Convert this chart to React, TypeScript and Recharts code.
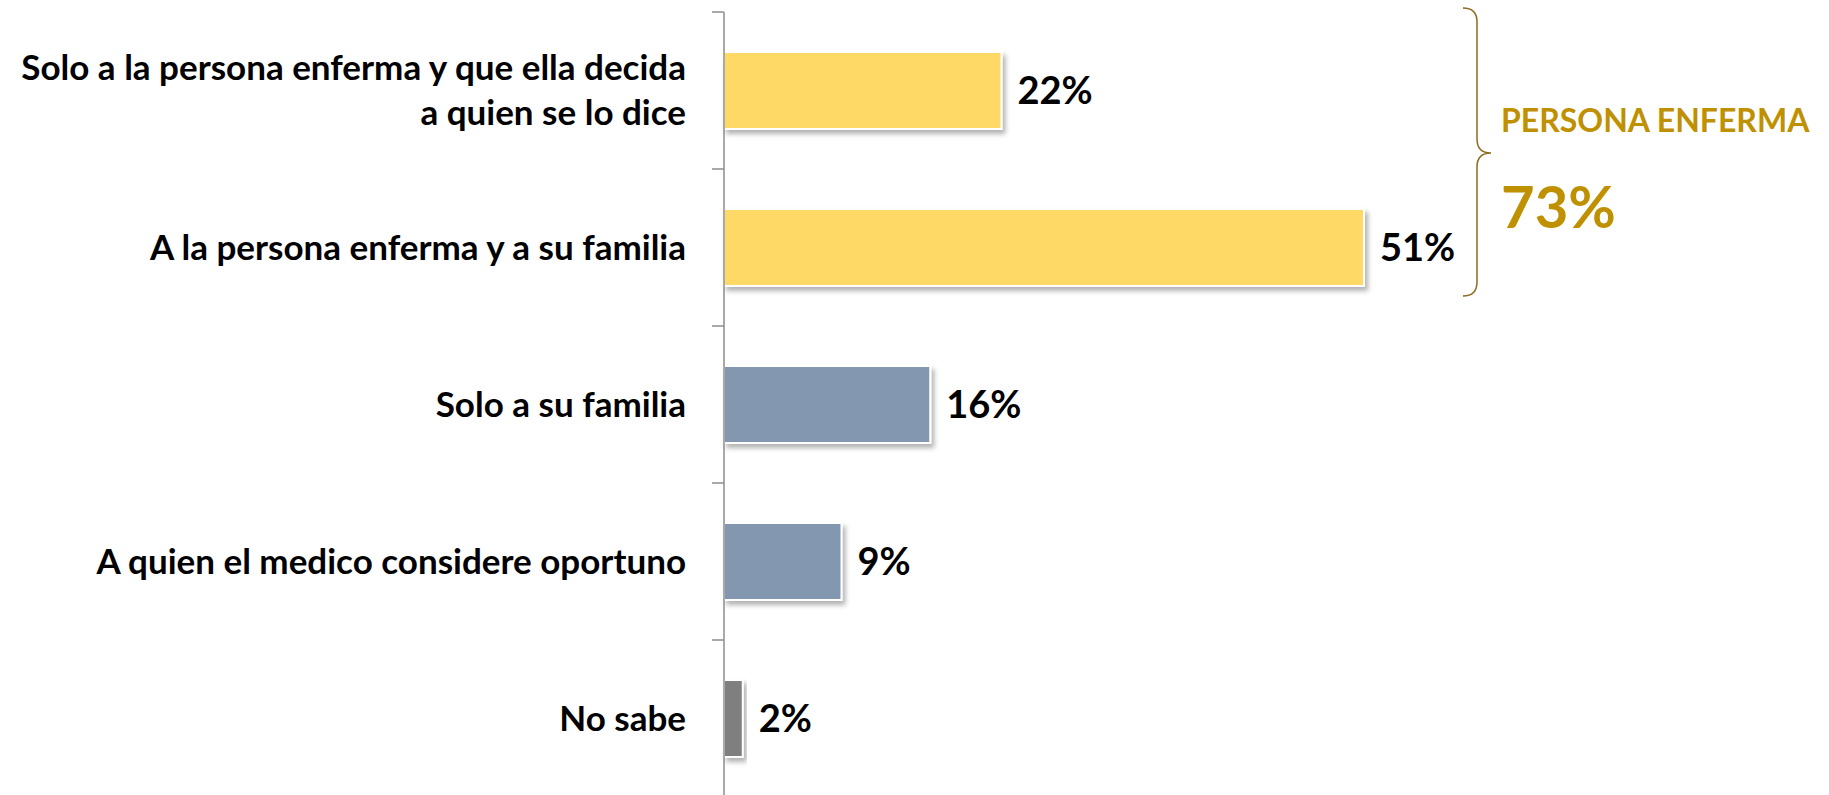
import { BarChart, Bar, XAxis, YAxis, Cell, LabelList } from "recharts";

const categories = [
  "Solo a la persona enferma y que ella decida\na quien se lo dice",
  "A la persona enferma y a su familia",
  "Solo a su familia",
  "A quien el medico considere oportuno",
  "No sabe",
];
const values = [22.2, 51.2, 16.5, 9.4, 1.5];
const valueLabels = ["22%", "51%", "16%", "9%", "2%"];
const barColors = ["#FFD966", "#FFD966", "#8497B0", "#8497B0", "#7F7F7F"];

const groupTitle = "PERSONA ENFERMA";
const groupTotal = "73%";

const data = categories.map((name, i) => ({ name, value: values[i], label: valueLabels[i] }));

const W = 1829;
const H = 800;
const TOP = 12;
const BOTTOM = 3;
const BAND = (H - TOP - BOTTOM) / categories.length;
const FONT = "Lato, 'Open Sans', sans-serif";

// category label, plus the small tick at the top of each band
function CategoryTick(props: any) {
  const { x, y, payload } = props;
  const lines = String(payload.value).split("\n");
  const lh = 45;
  const start = y - ((lines.length - 1) * lh) / 2;
  return (
    <g>
      <line x1={x - 12} x2={x} y1={y - BAND / 2} y2={y - BAND / 2} stroke="#8C8C8C" strokeWidth={1.5} />
      <text x={x - 38} y={start} textAnchor="end" fontFamily={FONT} fontWeight={700} fontSize={35} fill="#000">
        {lines.map((l, i) => (
          <tspan key={i} x={x - 38} y={start + i * lh} dy="0.35em">
            {l}
          </tspan>
        ))}
      </text>
    </g>
  );
}

export default function App() {
  return (
    <div style={{ position: "absolute", left: 0, top: 0, width: W, height: 795, overflow: "hidden", background: "#fff" }}>
      <BarChart
        width={W}
        height={H}
        data={data}
        layout="vertical"
        margin={{ top: TOP, right: 355, bottom: BOTTOM, left: 0 }}
      >
        <defs>
          <filter id="barShadow" x="-10%" y="-10%" width="130%" height="140%">
            <feDropShadow dx={3} dy={4} stdDeviation={2.5} floodColor="#000" floodOpacity={0.3} />
          </filter>
        </defs>
        <XAxis type="number" domain={[0, 60]} hide />
        <YAxis
          type="category"
          dataKey="name"
          width={724}
          tickSize={0}
          tickMargin={0}
          tickLine={false}
          axisLine={{ stroke: "#8C8C8C", strokeWidth: 1.5 }}
          tick={<CategoryTick />}
          interval={0}
        />
        <Bar dataKey="value" barSize={77} stroke="#fff" strokeWidth={2} filter="url(#barShadow)" isAnimationActive={false}>
          {data.map((d, i) => (
            <Cell key={d.name} fill={barColors[i]} />
          ))}
          <LabelList
            dataKey="label"
            position="right"
            offset={16}
            fontFamily={FONT}
            fontWeight={700}
            fontSize={38}
            fill="#000"
          />
        </Bar>
      </BarChart>
      <svg width={W} height={795} style={{ position: "absolute", left: 0, top: 0, pointerEvents: "none" }}>
        <path
          d="M1463,8 Q1477,8 1477,22 L1477,139 Q1477,153 1491,153 Q1477,153 1477,167 L1477,282 Q1477,296 1463,296"
          fill="none"
          stroke="#8C6D1F"
          strokeWidth={1.5}
        />
        <text x={1501} y={132} fontFamily={FONT} fontWeight={700} fontSize={32} fill="#BF9000">
          {groupTitle}
        </text>
        <text x={1501} y={228} fontFamily={FONT} fontWeight={700} fontSize={58} fill="#BF9000">
          {groupTotal}
        </text>
      </svg>
    </div>
  );
}
